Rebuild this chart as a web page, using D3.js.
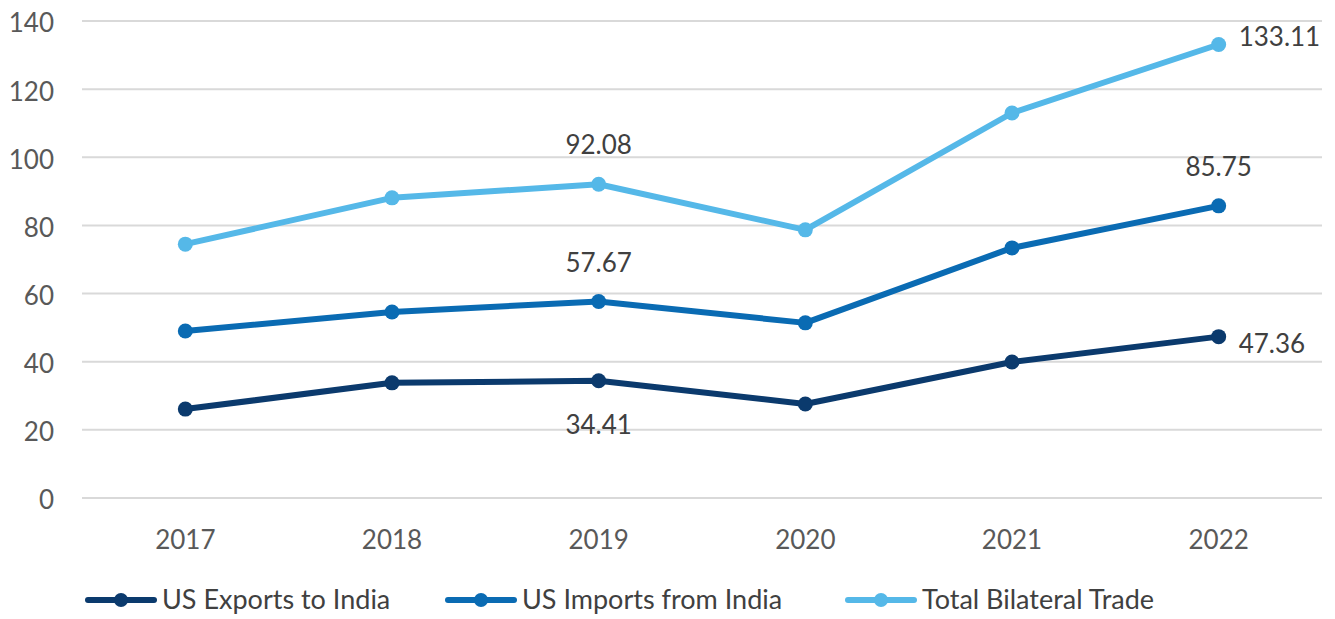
<!DOCTYPE html>
<meta charset="utf-8">
<style>

body {
  margin: 0;
  background: #fff;
}

text {
  font-family: Lato, "Open Sans", sans-serif;
  fill: #404040;
}

.grid line {
  stroke: #d9d9d9;
  stroke-width: 2px;
}

.axis text {
  fill: #595959;
  font-size: 26px;
}

.series path {
  fill: none;
  stroke-width: 6px;
  stroke-linejoin: round;
}

</style>
<body>
<script src="https://d3js.org/d3.v7.min.js"></script>
<script>

var years = ["2017", "2018", "2019", "2020", "2021", "2022"];
var exportsToIndia = [26.1, 33.8, 34.41, 27.6, 39.9, 47.36];
var importsFromIndia = [49.0, 54.6, 57.67, 51.4, 73.4, 85.75];
var totalTrade = [74.5, 88.1, 92.08, 78.7, 113.0, 133.11];
var yTicks = [0, 20, 40, 60, 80, 100, 120, 140];
var seriesNames = ["US Exports to India", "US Imports from India", "Total Bilateral Trade"];
var colors = ["#0b3a6d", "#0a6bb3", "#55b8e8"];

// which points carry a value label, and where it sits
var labels = [
  {s: 0, i: 2, pos: "below"},
  {s: 0, i: 5, pos: "right"},
  {s: 1, i: 2, pos: "above"},
  {s: 1, i: 5, pos: "above"},
  {s: 2, i: 2, pos: "above"},
  {s: 2, i: 5, pos: "right"}
];

var width = 1335,
    height = 619;

var svg = d3.select("body").append("svg")
    .attr("width", width)
    .attr("height", height)
    .style("display", "block");

var x = d3.scaleBand()
    .domain(years)
    .range([82, 1322]);

var y = d3.scaleLinear()
    .domain([0, 140])
    .range([498, 21]);

var grid = svg.append("g").attr("class", "grid");
grid.selectAll("line")
    .data(yTicks).enter()
    .append("line")
    .attr("x1", 82)
    .attr("x2", 1322)
    .attr("y1", function(d) { return y(d); })
    .attr("y2", function(d) { return y(d); });

var yAxis = svg.append("g")
    .attr("class", "axis")
    .attr("transform", "translate(62,0)")
    .call(d3.axisLeft(y).tickValues(yTicks).tickSize(0).tickPadding(8));
yAxis.select(".domain").remove();
yAxis.selectAll("text").attr("dy", "0.42em");

var xAxis = svg.append("g")
    .attr("class", "axis")
    .attr("transform", "translate(0,522)")
    .call(d3.axisBottom(x).tickSize(0).tickPadding(4));
xAxis.select(".domain").remove();
xAxis.selectAll("text").attr("dy", "0.88em");

var data = [exportsToIndia, importsFromIndia, totalTrade];

var line = d3.line()
    .x(function(d, i) { return x(years[i]) + x.bandwidth() / 2; })
    .y(function(d) { return y(d); });

var series = svg.selectAll(".series")
    .data(data).enter()
    .append("g")
    .attr("class", "series");

series.append("path")
    .attr("stroke", function(d, i) { return colors[i]; })
    .attr("d", line);

series.each(function(vals, s) {
  d3.select(this).selectAll("circle")
    .data(vals).enter()
    .append("circle")
    .attr("cx", function(d, i) { return x(years[i]) + x.bandwidth() / 2; })
    .attr("cy", function(d) { return y(d); })
    .attr("r", 7.5)
    .attr("fill", colors[s]);
});

svg.selectAll(".label")
    .data(labels).enter()
    .append("text")
    .attr("class", "label")
    .style("font-size", "26px")
    .attr("text-anchor", function(d) { return d.pos == "right" ? "start" : "middle"; })
    .attr("x", function(d) {
      var cx = x(years[d.i]) + x.bandwidth() / 2;
      return d.pos == "right" ? cx + 20 : cx;
    })
    .attr("y", function(d) {
      var cy = y(data[d.s][d.i]);
      if (d.pos == "above") return cy - 30;
      if (d.pos == "below") return cy + 53;
      return d.s == 0 ? cy + 16 : cy + 2;
    })
    .text(function(d) { return data[d.s][d.i].toFixed(2); });

// legend
var legendX = [85, 445, 845];
var legend = svg.selectAll(".legend")
    .data(seriesNames).enter()
    .append("g")
    .attr("class", "legend")
    .attr("transform", function(d, i) { return "translate(" + legendX[i] + ",600)"; });

legend.append("line")
    .attr("x1", 3).attr("x2", 69)
    .attr("stroke", function(d, i) { return colors[i]; })
    .attr("stroke-width", 6)
    .attr("stroke-linecap", "round");

legend.append("circle")
    .attr("cx", 36)
    .attr("r", 7)
    .attr("fill", function(d, i) { return colors[i]; });

legend.append("text")
    .attr("x", 77)
    .attr("y", 9)
    .style("font-size", "27px")
    .text(function(d) { return d; });

</script>
</body>
